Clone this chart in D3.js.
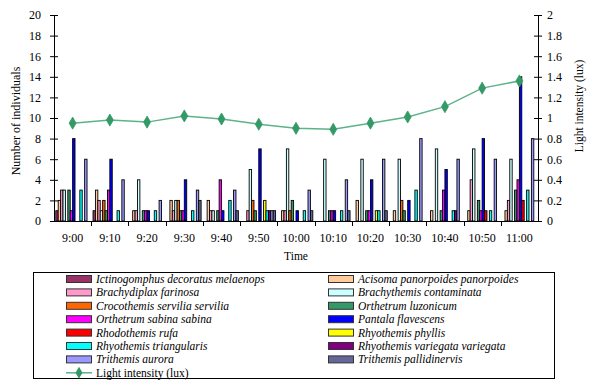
<!DOCTYPE html>
<html><head><meta charset="utf-8">
<script src="https://cdn.jsdelivr.net/npm/d3@7"></script>
<style>body{margin:0;background:#fff}svg{display:block}</style>
</head><body><svg id="c" width="607" height="383"></svg>
<script>
const times = ["9:00","9:10","9:20","9:30","9:40","9:50","10:00","10:10","10:20","10:30","10:40","10:50","11:00"];
const species = ["Ictinogomphus decoratus melaenops","Acisoma panorpoides panorpoides","Brachydiplax farinosa","Brachythemis contaminata","Crocothemis servilia servilia","Orthetrum luzonicum","Orthetrum sabina sabina","Pantala flavescens","Rhodothemis rufa","Rhyothemis phyllis","Rhyothemis triangularis","Rhyothemis variegata variegata","Trithemis aurora","Trithemis pallidinervis"];
const ictinogomphus = [1,1,0,0,0,0,0,0,0,0,0,0,0];
const acisoma       = [2,3,1,2,2,0,1,0,2,1,1,1,1];
const brachydiplax  = [3,2,1,1,1,1,1,0,0,0,0,4,2];
const brachythemis  = [3,1,4,2,1,5,7,6,6,6,7,7,6];
const crocothemis   = [0,2,0,2,0,2,1,0,0,2,0,0,0];
const oLuzonicum    = [3,1,1,1,1,1,2,1,1,1,1,2,3];
const oSabina       = [1,3,1,1,4,0,0,1,1,0,3,1,4];
const pantala       = [8,6,1,4,1,7,1,1,4,2,5,8,14];
const rhodothemis   = [0,0,0,0,0,0,0,0,0,0,0,1,2];
const rPhyllis      = [0,0,0,0,0,2,0,0,1,0,0,0,0];
const rTriangularis = [3,1,1,1,2,1,1,1,1,3,1,1,3];
const rVariegata    = [0,0,0,0,0,1,0,0,0,0,1,0,0];
const tAurora       = [6,4,2,3,3,1,3,4,6,8,6,6,8];
const tPallidinervis= [0,0,0,2,1,1,1,1,1,0,0,0,0];
const lightIntensity = [0.95,0.98,0.96,1.02,0.99,0.94,0.90,0.89,0.95,1.01,1.11,1.29,1.36];
const leftTicks = [0,2,4,6,8,10,12,14,16,18,20];
const rightTicks = [0,0.2,0.4,0.6,0.8,1,1.2,1.4,1.6,1.8,2];
const lineName = "Light intensity (lux)";

const seriesValues = [ictinogomphus,acisoma,brachydiplax,brachythemis,crocothemis,oLuzonicum,oSabina,pantala,rhodothemis,rPhyllis,rTriangularis,rVariegata,tAurora,tPallidinervis];
const colors = ["#993366","#FFCC99","#FF99CC","#CCFFFF","#FF6600","#339966","#FF00FF","#0000FF","#FF0000","#FFFF00","#00FFFF","#800080","#9999FF","#666699"];

const svg = d3.select("#c");
const L=54, R=538, T=15, B=221;
const font = "'Liberation Serif','Times New Roman',serif";

const x0 = d3.scaleBand().domain(times).range([L,R]).padding(0);
const x1 = d3.scaleBand().domain(d3.range(species.length)).range([0,x0.bandwidth()]).paddingInner(0).paddingOuter(0.75);
const y = d3.scaleLinear().domain([0,20]).range([B,T]);
const y2 = d3.scaleLinear().domain([0,2]).range([B,T]);

// bars
const g = svg.append("g");
times.forEach((t,i)=>{
  seriesValues.forEach((vals,s)=>{
    const v = vals[i];
    if(v<=0) return;
    g.append("rect")
      .attr("x", x0(t)+x1(s)).attr("y", y(v))
      .attr("width", x1.bandwidth()).attr("height", y(0)-y(v))
      .attr("fill", colors[s]).attr("stroke","#000").attr("stroke-width",0.9);
  });
});

// axes
const axL = d3.axisLeft(y).tickValues(leftTicks).tickSizeInner(4).tickSizeOuter(0).tickPadding(9);
const gl = svg.append("g").attr("transform",`translate(${L},0)`).call(axL);
gl.selectAll(".tick line").attr("x2",4).attr("x1",-4);
const axR = d3.axisRight(y2).tickValues(rightTicks).tickFormat(d3.format("~g")).tickSizeInner(4).tickSizeOuter(0).tickPadding(5);
const gr = svg.append("g").attr("transform",`translate(${R},0)`).call(axR);
gr.selectAll(".tick line").attr("x1",-4).attr("x2",4);
const axB = d3.axisBottom(x0).tickSize(0).tickPadding(12);
const gb = svg.append("g").attr("transform",`translate(0,${B})`).call(axB);
gb.select(".domain").attr("d",`M${L},0.5H${R}`);
// category boundary ticks
svg.append("g").selectAll("line").data(times.slice(1)).join("line")
  .attr("x1",d=>Math.round(x0(d))+0.5).attr("x2",d=>Math.round(x0(d))+0.5)
  .attr("y1",B).attr("y2",B+5).attr("stroke","#000");
[gl,gr,gb].forEach(a=>{
  a.selectAll("text").attr("font-family",font).attr("font-size",12).attr("fill","#000");
  a.selectAll("path,line").attr("stroke","#000");
});

// line
const line = d3.line().x((d,i)=>x0(times[i])+x0.bandwidth()/2).y(d=>y2(d));
svg.append("path").datum(lightIntensity).attr("d",line).attr("fill","none").attr("stroke","#5cb38a").attr("stroke-width",1.5);
const diamond = d3.symbol().type(d3.symbolDiamond).size(42);
svg.append("g").selectAll("path").data(lightIntensity).join("path")
  .attr("transform",(d,i)=>`translate(${x0(times[i])+x0.bandwidth()/2},${y2(d)})`)
  .attr("d",diamond).attr("fill","#339966").attr("stroke","#339966").attr("stroke-width",0.8);

// titles
svg.append("text").attr("transform","translate(20,121) rotate(-90)").attr("text-anchor","middle")
  .attr("font-family",font).attr("font-size",12).text("Number of individuals");
svg.append("text").attr("transform","translate(583,106) rotate(-90)").attr("text-anchor","middle")
  .attr("font-family",font).attr("font-size",11.5).text("Light intensity (lux)");
svg.append("text").attr("x",(L+R)/2).attr("y",260).attr("text-anchor","middle")
  .attr("font-family",font).attr("font-size",11.5).text("Time");

// legend
const lg = svg.append("g");
lg.append("rect").attr("x",33.5).attr("y",272.5).attr("width",521).attr("height",106).attr("fill","#fff").attr("stroke","#000");
const colX = [66, 328], rowY0 = 279, rowH = 13.4;
species.forEach((s,i)=>{
  const cx = colX[i%2], cy = rowY0 + Math.floor(i/2)*rowH;
  lg.append("rect").attr("x",cx+0.5).attr("y",cy-3.5).attr("width",25).attr("height",7)
    .attr("fill",colors[i]).attr("stroke","#333").attr("stroke-width",1);
  lg.append("text").attr("x",cx+30).attr("y",cy+4).attr("font-family",font).attr("font-style","italic")
    .attr("font-size",11.5).text(s);
});
{
  const cy = rowY0 + 7*rowH, cx = colX[0];
  lg.append("line").attr("x1",cx).attr("x2",cx+26).attr("y1",cy).attr("y2",cy).attr("stroke","#5cb38a").attr("stroke-width",1.5);
  lg.append("path").attr("transform",`translate(${cx+13},${cy})`).attr("d",diamond).attr("fill","#339966");
  lg.append("text").attr("x",cx+30).attr("y",cy+4).attr("font-family",font).attr("font-size",11.5).text(lineName);
}
</script></body></html>
